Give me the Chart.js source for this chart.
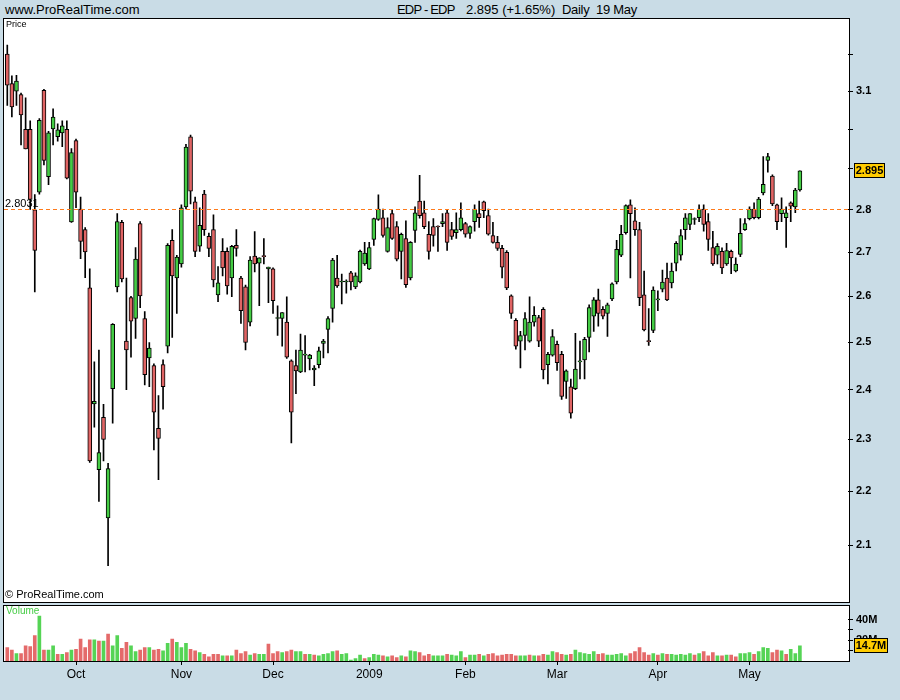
<!DOCTYPE html>
<html>
<head>
<meta charset="utf-8">
<script src="https://cdn.jsdelivr.net/npm/chart.js@4.4.1/dist/chart.umd.min.js"></script>
<style>
  body { margin: 0; width: 900px; height: 700px; background: #c9dce6; position: relative; overflow: hidden;
         font-family: Arial, "Liberation Sans", sans-serif; }
  .t { position: absolute; white-space: nowrap; color: #000; }
  .box { position: absolute; box-sizing: border-box; border: 1px solid #000; background: #fff; }
  canvas { position: absolute; left: 0; }
</style>
</head>
<body>
<div class="t" style="left:5px;top:2px;font-size:13px">www.ProRealTime.com</div>
<div class="t" style="left:397px;top:2px;font-size:13px;letter-spacing:-0.8px">EDP - EDP</div>
<div class="t" style="left:466px;top:2px;font-size:13px">2.895 (+1.65%)</div>
<div class="t" style="left:562px;top:2px;font-size:13px;letter-spacing:-0.3px">Daily&nbsp; 19 May</div>

<div class="box" style="left:3px;top:18px;width:847px;height:585px"></div>
<div class="box" style="left:3px;top:605px;width:847px;height:57px"></div>

<canvas id="priceChart" width="900" height="605" style="top:0"></canvas>
<canvas id="volChart" width="900" height="95" style="top:605px"></canvas>

<div class="t" style="left:6px;top:19px;font-size:9px">Price</div>
<div class="t" style="left:5px;top:588px;font-size:11px">© ProRealTime.com</div>
<div class="t" style="left:6px;top:605px;font-size:10px;color:#44cc44">Volume</div>

<script>
// daily OHLC, EDP, 10 Sep 2008 - 19 May 2009
const open = [
  3.200, 3.120, 3.100, 3.091, 3.000, 3.000, 2.800, 2.843, 3.102, 2.881,
  3.001, 2.981, 2.991, 3.000, 2.771, 2.971, 2.802, 2.753, 2.619, 2.371,
  2.241, 2.344, 2.150, 2.402, 2.621, 2.770, 2.502, 2.597, 2.551, 2.767,
  2.551, 2.466, 2.450, 2.322, 2.452, 2.491, 2.728, 2.641, 2.673, 2.807,
  2.981, 2.819, 2.714, 2.838, 2.737, 2.753, 2.603, 2.702, 2.702, 2.641,
  2.716, 2.641, 2.621, 2.543, 2.691, 2.675, 2.691, 2.662, 2.662, 2.551,
  2.551, 2.543, 2.460, 2.450, 2.437, 2.472, 2.464, 2.441, 2.452, 2.497,
  2.527, 2.573, 2.641, 2.632, 2.632, 2.653, 2.621, 2.632, 2.673, 2.662,
  2.730, 2.777, 2.781, 2.702, 2.791, 2.760, 2.702, 2.732, 2.641, 2.751,
  2.821, 2.793, 2.742, 2.760, 2.760, 2.767, 2.793, 2.753, 2.746, 2.753,
  2.767, 2.744, 2.772, 2.791, 2.819, 2.786, 2.739, 2.723, 2.709, 2.700,
  2.601, 2.547, 2.502, 2.514, 2.502, 2.543, 2.553, 2.571, 2.452, 2.472,
  2.495, 2.474, 2.417, 2.406, 2.402, 2.458, 2.462, 2.510, 2.556, 2.592,
  2.571, 2.562, 2.594, 2.632, 2.693, 2.746, 2.812, 2.774, 2.753, 2.603,
  2.502, 2.525, 2.592, 2.616, 2.641, 2.630, 2.675, 2.693, 2.753, 2.765,
  2.777, 2.781, 2.802, 2.772, 2.711, 2.693, 2.702, 2.673, 2.702, 2.657,
  2.695, 2.753, 2.779, 2.802, 2.781, 2.841, 2.921, 2.882, 2.812, 2.791,
  2.781, 2.817, 2.807, 2.848
];
const high = [
  3.225, 3.141, 3.142, 3.095, 3.082, 3.022, 2.837, 3.028, 3.105, 2.995,
  3.053, 3.014, 3.022, 3.022, 2.951, 2.975, 2.831, 2.758, 2.662, 2.458,
  2.483, 2.370, 2.253, 2.540, 2.791, 2.775, 2.641, 2.600, 2.711, 2.772,
  2.566, 2.499, 2.454, 2.388, 2.462, 2.720, 2.753, 2.693, 2.812, 2.962,
  2.985, 2.831, 2.805, 2.847, 2.745, 2.788, 2.667, 2.732, 2.710, 2.716,
  2.753, 2.645, 2.625, 2.690, 2.748, 2.687, 2.732, 2.666, 2.664, 2.579,
  2.564, 2.599, 2.462, 2.483, 2.517, 2.514, 2.474, 2.450, 2.489, 2.506,
  2.555, 2.686, 2.693, 2.650, 2.637, 2.656, 2.653, 2.705, 2.723, 2.723,
  2.780, 2.836, 2.802, 2.781, 2.800, 2.772, 2.745, 2.774, 2.725, 2.807,
  2.884, 2.821, 2.772, 2.779, 2.762, 2.791, 2.800, 2.770, 2.793, 2.817,
  2.770, 2.762, 2.812, 2.821, 2.821, 2.802, 2.770, 2.737, 2.716, 2.704,
  2.603, 2.551, 2.523, 2.564, 2.599, 2.577, 2.558, 2.575, 2.478, 2.527,
  2.502, 2.480, 2.441, 2.422, 2.519, 2.502, 2.510, 2.581, 2.597, 2.616,
  2.577, 2.585, 2.630, 2.728, 2.763, 2.812, 2.824, 2.805, 2.770, 2.657,
  2.573, 2.621, 2.612, 2.659, 2.675, 2.675, 2.725, 2.753, 2.791, 2.791,
  2.781, 2.812, 2.812, 2.791, 2.749, 2.720, 2.710, 2.721, 2.705, 2.687,
  2.779, 2.779, 2.807, 2.817, 2.830, 2.931, 2.939, 2.885, 2.814, 2.829,
  2.807, 2.819, 2.852, 2.895
];
const low = [
  3.062, 3.032, 3.062, 2.960, 2.950, 2.801, 2.610, 2.838, 2.910, 2.861,
  2.960, 2.970, 2.956, 2.875, 2.770, 2.805, 2.685, 2.642, 2.255, 2.324,
  2.181, 2.258, 2.064, 2.332, 2.610, 2.632, 2.400, 2.468, 2.508, 2.575,
  2.410, 2.406, 2.279, 2.222, 2.360, 2.477, 2.510, 2.562, 2.666, 2.802,
  2.814, 2.690, 2.702, 2.739, 2.690, 2.621, 2.588, 2.646, 2.605, 2.599,
  2.691, 2.540, 2.483, 2.535, 2.655, 2.579, 2.673, 2.586, 2.562, 2.514,
  2.491, 2.465, 2.293, 2.392, 2.435, 2.437, 2.441, 2.408, 2.445, 2.466,
  2.477, 2.543, 2.620, 2.583, 2.607, 2.614, 2.617, 2.630, 2.670, 2.660,
  2.716, 2.775, 2.735, 2.700, 2.730, 2.680, 2.639, 2.620, 2.637, 2.723,
  2.780, 2.755, 2.684, 2.714, 2.702, 2.760, 2.704, 2.730, 2.732, 2.750,
  2.735, 2.732, 2.749, 2.758, 2.781, 2.740, 2.721, 2.704, 2.641, 2.615,
  2.551, 2.485, 2.445, 2.483, 2.500, 2.534, 2.490, 2.422, 2.412, 2.470,
  2.440, 2.380, 2.382, 2.342, 2.400, 2.422, 2.422, 2.479, 2.523, 2.534,
  2.550, 2.512, 2.590, 2.628, 2.690, 2.742, 2.641, 2.739, 2.579, 2.524,
  2.493, 2.520, 2.568, 2.610, 2.590, 2.619, 2.657, 2.682, 2.730, 2.753,
  2.765, 2.772, 2.749, 2.704, 2.670, 2.673, 2.651, 2.670, 2.651, 2.655,
  2.690, 2.751, 2.776, 2.778, 2.778, 2.836, 2.892, 2.810, 2.753, 2.772,
  2.711, 2.772, 2.793, 2.845
];
const close = [
  3.116, 3.058, 3.127, 3.037, 2.950, 2.825, 2.704, 3.023, 2.921, 2.991,
  3.032, 2.999, 3.009, 2.877, 2.941, 2.843, 2.725, 2.701, 2.258, 2.376,
  2.274, 2.300, 2.243, 2.538, 2.772, 2.639, 2.483, 2.545, 2.684, 2.601,
  2.431, 2.487, 2.354, 2.302, 2.406, 2.716, 2.646, 2.689, 2.805, 2.955,
  2.845, 2.702, 2.763, 2.753, 2.709, 2.637, 2.630, 2.664, 2.623, 2.714,
  2.709, 2.568, 2.499, 2.682, 2.673, 2.687, 2.690, 2.666, 2.590, 2.551,
  2.564, 2.468, 2.354, 2.439, 2.483, 2.472, 2.472, 2.445, 2.481, 2.502,
  2.551, 2.682, 2.623, 2.632, 2.632, 2.632, 2.646, 2.702, 2.698, 2.711,
  2.779, 2.802, 2.739, 2.758, 2.732, 2.684, 2.742, 2.626, 2.723, 2.793,
  2.786, 2.760, 2.702, 2.739, 2.759, 2.772, 2.723, 2.737, 2.753, 2.781,
  2.742, 2.760, 2.802, 2.781, 2.798, 2.742, 2.723, 2.709, 2.666, 2.619,
  2.562, 2.491, 2.514, 2.551, 2.543, 2.558, 2.502, 2.441, 2.474, 2.512,
  2.456, 2.386, 2.439, 2.352, 2.443, 2.458, 2.506, 2.575, 2.592, 2.562,
  2.556, 2.581, 2.628, 2.707, 2.742, 2.810, 2.791, 2.753, 2.597, 2.526,
  2.501, 2.614, 2.593, 2.632, 2.592, 2.657, 2.721, 2.739, 2.781, 2.791,
  2.777, 2.802, 2.765, 2.730, 2.673, 2.714, 2.664, 2.704, 2.687, 2.673,
  2.744, 2.767, 2.802, 2.781, 2.826, 2.862, 2.931, 2.814, 2.772, 2.802,
  2.793, 2.809, 2.848, 2.895
];
// volume in millions of shares
const volume = [
  13.1, 10.6, 7.3, 7.3, 14.7, 13.9, 24.5, 43.5, 10.6, 10.6,
  14.7, 6.5, 6.5, 8.2, 10.6, 11.4, 21.2, 13.1, 20.4, 20.4,
  19.3, 19.3, 26.1, 14.7, 24.5, 12.2, 18.0, 14.7, 9.0, 10.6,
  13.1, 13.1, 10.6, 11.4, 9.8, 17.1, 21.2, 18.0, 13.1, 17.1,
  11.4, 9.8, 8.2, 6.5, 4.1, 6.5, 6.5, 4.9, 4.9, 4.9,
  10.6, 7.3, 9.0, 5.7, 7.3, 6.5, 6.5, 16.3, 7.3, 9.0,
  8.2, 9.0, 10.6, 9.0, 9.0, 6.5, 6.5, 5.7, 4.9, 6.5,
  7.3, 9.0, 9.8, 6.5, 7.3, 1.0, 2.4, 5.7, 2.4, 3.3,
  6.5, 5.7, 4.9, 4.1, 4.9, 3.3, 4.9, 4.1, 9.8, 9.0,
  8.2, 4.9, 6.5, 4.9, 4.9, 4.9, 6.5, 5.7, 4.9, 9.0,
  3.3, 5.7, 5.7, 6.5, 4.9, 6.5, 7.3, 4.9, 5.7, 6.5,
  6.5, 4.9, 4.9, 4.9, 5.7, 4.9, 4.9, 6.5, 5.7, 9.0,
  8.2, 6.5, 5.7, 6.5, 10.6, 8.2, 7.3, 6.5, 9.0, 6.5,
  7.3, 5.7, 5.7, 6.5, 7.3, 4.9, 7.3, 9.0, 13.1, 8.2,
  5.7, 7.3, 5.7, 7.3, 6.5, 6.5, 5.7, 6.5, 5.7, 7.3,
  5.7, 7.3, 9.0, 4.9, 8.2, 4.9, 4.9, 5.7, 5.7, 4.1,
  7.3, 7.3, 8.2, 6.5, 9.0, 13.1, 12.2, 8.2, 10.6, 9.8,
  6.5, 11.4, 7.3, 14.7
];
const refLevel = 2.8031;
const priceTicks = [2.1, 2.2, 2.3, 2.4, 2.5, 2.6, 2.7, 2.8, 2.9, 3.0, 3.1, 3.2];
const priceLabels = [2.1, 2.2, 2.3, 2.4, 2.5, 2.6, 2.7, 2.8, 2.9, 3.1];
const volTicks = [10, 20, 30, 40];
const volLabels = [20, 40];
const monthNames = ['Jan', 'Feb', 'Mar', 'Apr', 'May', 'Jun', 'Jul', 'Aug', 'Sep', 'Oct', 'Nov', 'Dec'];
const holidays = ['2008-12-25', '2008-12-26', '2009-01-01', '2009-04-10', '2009-04-13', '2009-05-01'];

function tradingDays(from, to) {
  const out = [];
  const end = new Date(to + 'T00:00:00Z');
  for (let d = new Date(from + 'T00:00:00Z'); d <= end; d.setUTCDate(d.getUTCDate() + 1)) {
    const s = d.toISOString().slice(0, 10);
    const wd = d.getUTCDay();
    if (wd === 0 || wd === 6 || holidays.includes(s)) continue;
    out.push(s);
  }
  return out;
}

const dates = tradingDays('2008-09-10', '2009-05-19');
const slots = dates.concat(Array(10).fill(''));
const monthLabel = slots.map((s, i) => {
  if (!s || i === 0 || s.slice(5, 7) === slots[i - 1].slice(5, 7)) return null;
  const m = +s.slice(5, 7) - 1;
  return m === 0 ? s.slice(0, 4) : monthNames[m];
});

const GREEN = '#44cc44', RED = '#e06464';
const VGREEN = '#55d455', VRED = '#e46a6a';

const bodies = open.map((o, i) => [o, close[i]]);
const wicks = low.map((l, i) => [l, high[i]]);
const bodyColors = open.map((o, i) => close[i] >= o ? GREEN : RED);
const volColors = close.map((c, i) => i > 0 && c >= close[i - 1] ? VGREEN : VRED);

const bold11 = { family: 'Arial', size: 11, weight: 'bold' };

function tagBox(ctx, text, x, y, w) {
  const top = Math.round(y - 7.5);
  ctx.fillStyle = '#ffcc00';
  ctx.fillRect(x, top, w, 15);
  ctx.strokeStyle = '#000';
  ctx.lineWidth = 1;
  ctx.strokeRect(x + 0.5, top + 0.5, w - 1, 14);
  ctx.fillStyle = '#000';
  ctx.font = 'bold 11px Arial';
  ctx.textBaseline = 'middle';
  ctx.textAlign = 'center';
  ctx.fillText(text, x + w / 2, top + 8);
}

const priceOverlay = {
  id: 'priceOverlay',
  afterDraw(chart) {
    const { ctx, chartArea: a, scales: { y } } = chart;
    const py = Math.round(y.getPixelForValue(refLevel)) + 0.5;
    ctx.save();
    ctx.strokeStyle = '#ff7a1a';
    ctx.lineWidth = 1;
    ctx.setLineDash([4, 3]);
    ctx.beginPath();
    ctx.moveTo(4, py);
    ctx.lineTo(a.right + 1, py);
    ctx.stroke();
    ctx.setLineDash([]);
    ctx.fillStyle = '#000';
    ctx.font = '11px Arial';
    ctx.textAlign = 'left';
    ctx.textBaseline = 'bottom';
    ctx.fillText(refLevel.toFixed(4), 5, py);
    const last = close[close.length - 1];
    tagBox(ctx, last.toFixed(3), 854, y.getPixelForValue(last), 31);
    ctx.restore();
  }
};

const volOverlay = {
  id: 'volOverlay',
  afterDraw(chart) {
    const { ctx, scales: { y } } = chart;
    const last = volume[volume.length - 1];
    ctx.save();
    tagBox(ctx, last.toFixed(1) + 'M', 854, y.getPixelForValue(last), 34);
    ctx.restore();
  }
};

new Chart(document.getElementById('priceChart'), {
  type: 'bar',
  data: {
    labels: slots,
    datasets: [
      { data: bodies, backgroundColor: bodyColors, borderColor: '#000', borderWidth: 1, borderSkipped: false,
        barThickness: 4, minBarLength: 1, grouped: false, order: 0 },
      { data: wicks, backgroundColor: '#000', borderWidth: 0, barThickness: 1, grouped: false, order: 1 }
    ]
  },
  options: {
    responsive: false,
    animation: false,
    devicePixelRatio: 1,
    layout: { padding: { left: 5, top: 19, right: 0, bottom: 3 } },
    plugins: { legend: { display: false }, tooltip: { enabled: false } },
    scales: {
      x: { display: false, offset: true },
      y: {
        type: 'logarithmic',
        position: 'right',
        min: 2.012,
        max: 3.2976,
        bounds: 'data',
        grid: { drawOnChartArea: false, drawTicks: true, tickLength: 5, color: '#000' },
        border: { display: false },
        ticks: {
          autoSkip: false,
          color: '#000',
          font: bold11,
          padding: 3,
          callback: v => priceLabels.some(p => Math.abs(p - v) < 1e-6) ? v.toFixed(1) : ''
        },
        afterBuildTicks: s => { s.ticks = priceTicks.map(v => ({ value: v })); },
        afterFit: s => { s.width = 52; }
      }
    }
  },
  plugins: [priceOverlay]
});

new Chart(document.getElementById('volChart'), {
  type: 'bar',
  data: {
    labels: slots,
    datasets: [{ data: volume, backgroundColor: volColors, borderWidth: 0, barThickness: 3 }]
  },
  options: {
    responsive: false,
    animation: false,
    devicePixelRatio: 1,
    layout: { padding: { left: 5, top: 1, right: 0, bottom: 0 } },
    plugins: { legend: { display: false }, tooltip: { enabled: false } },
    scales: {
      x: {
        offset: true,
        grid: { offset: false, drawOnChartArea: false, drawTicks: true, tickLength: 4, color: '#000' },
        border: { display: false },
        ticks: {
          autoSkip: false,
          maxRotation: 0,
          color: '#000',
          padding: 2,
          font: c => ({ family: 'Arial', size: 12, weight: monthLabel[c.index] === '2009' ? 'bold' : 'normal' }),
          callback: (v, i) => monthLabel[i]
        },
        afterFit: s => { s.height = 39; }
      },
      y: {
        position: 'right',
        min: 0,
        max: 44.9,
        grid: { drawOnChartArea: false, drawTicks: true, tickLength: 5, color: '#000' },
        border: { display: false },
        ticks: {
          autoSkip: false,
          color: '#000',
          font: bold11,
          padding: 3,
          callback: v => volLabels.includes(v) ? v + 'M' : ''
        },
        afterBuildTicks: s => { s.ticks = volTicks.map(v => ({ value: v })); },
        afterFit: s => { s.width = 52; }
      }
    }
  },
  plugins: [volOverlay]
});
</script>
</body>
</html>
